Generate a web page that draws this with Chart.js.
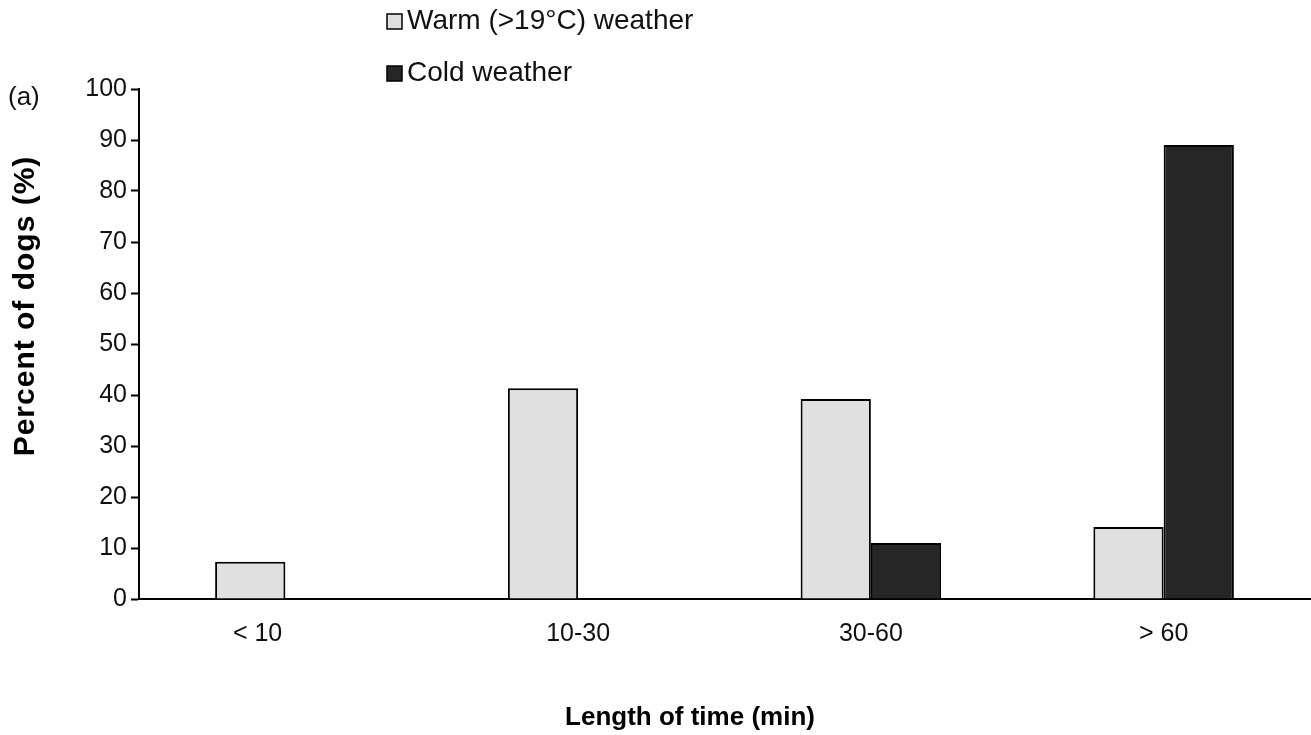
<!DOCTYPE html>
<html>
<head>
<meta charset="utf-8">
<script src="https://cdn.jsdelivr.net/npm/chart.js@4"></script>
<style>
  html, body { margin: 0; padding: 0; background: #fff; }
  #wrap { width: 1311px; height: 735px; }
</style>
</head>
<body>
<div id="wrap"><canvas id="chart" width="1311" height="735"></canvas></div>
<script>
const categories = ["< 10", "10-30", "30-60", "> 60"];
const warmValues = [7.3, 41.3, 39.2, 14.1];
const coldValues = [0, 0, 11.0, 89.0];
const seriesNames = ["Warm (>19°C) weather", "Cold weather"];
const yTicks = [0, 10, 20, 30, 40, 50, 60, 70, 80, 90, 100];
const xTitle = "Length of time (min)";
const yTitle = "Percent of dogs (%)";
const panelLabel = "(a)";

const FONT = "'Liberation Sans', Arial, sans-serif";

// legend stacked above the plot, axis titles and the "(a)" panel label
const annotations = {
  id: "annotations",
  afterDraw(chart) {
    const ctx = chart.ctx;
    ctx.save();
    ctx.font = "28px " + FONT;
    ctx.textBaseline = "middle";
    chart.data.datasets.forEach((ds, i) => {
      const y = 21 + i * 52;
      ctx.fillStyle = ds.backgroundColor;
      ctx.strokeStyle = "#000";
      ctx.lineWidth = 1.5;
      ctx.fillRect(387, y - 7, 15, 15);
      ctx.strokeRect(387, y - 7, 15, 15);
      ctx.fillStyle = "#111";
      ctx.fillText(ds.label, 407, y);
    });
    ctx.font = "26px " + FONT;
    ctx.fillText(panelLabel, 8, 98);

    ctx.fillStyle = "#000";
    ctx.font = "bold 26px " + FONT;
    ctx.textAlign = "center";
    ctx.fillText(xTitle, 690, 718);
    ctx.font = "bold 30px " + FONT;
    ctx.letterSpacing = "1px";
    ctx.translate(26, 306);
    ctx.rotate(-Math.PI / 2);
    ctx.fillText(yTitle, 0, 0);
    ctx.restore();
  }
};

new Chart(document.getElementById("chart"), {
  type: "bar",
  data: {
    labels: categories,
    datasets: [
      {
        label: seriesNames[0],
        data: warmValues,
        backgroundColor: "#e0e0e0",
        borderColor: "#000",
        borderWidth: 2,
      },
      {
        label: seriesNames[1],
        data: coldValues,
        backgroundColor: "#262626",
        borderColor: "#000",
        borderWidth: 2,
      },
    ],
  },
  options: {
    responsive: false,
    animation: false,
    layout: { padding: { top: 89, right: 1, left: 0, bottom: 0 } },
    plugins: {
      legend: { display: false },
      tooltip: { enabled: false },
    },
    datasets: {
      bar: { categoryPercentage: 0.48, barPercentage: 1 },
    },
    scales: {
      x: {
        grid: { display: false },
        border: { display: true, color: "#000", width: 2 },
        ticks: {
          color: "#111",
          font: { size: 25, family: FONT },
          padding: 12,
          // first label sits under the warm bar in the original
          callback(value, index) {
            const label = this.getLabelForValue(value);
            return index === 0 ? label + "        " : label;
          },
        },
        afterFit(scale) { scale.height = 136; },
      },
      y: {
        min: 0,
        max: 100,
        afterBuildTicks(scale) { scale.ticks = yTicks.map((v) => ({ value: v })); },
        grid: {
          drawOnChartArea: false,
          drawTicks: true,
          tickLength: 8,
          tickWidth: 2,
          color: "#000",
        },
        border: { display: true, color: "#000", width: 2 },
        ticks: { color: "#111", font: { size: 25, family: FONT }, padding: 4 },
        afterFit(scale) { scale.width = 139; },
      },
    },
  },
  plugins: [annotations],
});
</script>
</body>
</html>
